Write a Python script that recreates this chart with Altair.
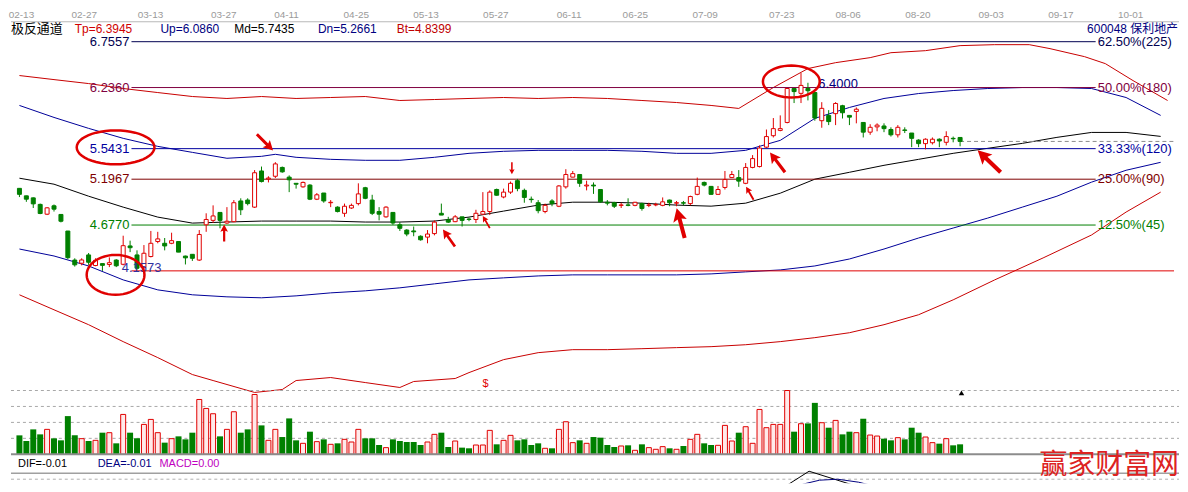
import math
import numpy as np
import pandas as pd
import altair as alt

# ---------------- data ----------------
opens = [5.093, 5.008, 4.985, 4.911, 4.800, 4.895, 4.797, 4.609, 4.280, 4.244,
         4.338, 4.218, 4.240, 4.230, 4.280, 4.232, 4.440, 4.338, 4.195, 4.320,
         4.490, 4.470, 4.470, 4.490, 4.325, 4.345, 4.280, 4.680, 4.730, 4.820,
         4.700, 4.715, 4.950, 4.960, 4.880, 5.290, 5.200, 5.230, 5.330, 5.220,
         5.150, 5.110, 5.130, 4.970, 5.040, 4.930, 4.880, 4.810, 4.870, 4.920,
         5.100, 4.960, 4.830, 4.770, 4.820, 4.680, 4.620, 4.610, 4.550, 4.540,
         4.580, 4.810, 4.735, 4.715, 4.770, 4.745, 4.740, 4.800, 4.830, 5.080,
         4.995, 5.050, 5.180, 5.070, 4.970, 4.930, 4.830, 4.950, 4.890, 5.110,
         5.220, 5.250, 5.120, 5.130, 5.080, 4.935, 4.930, 4.900, 4.905, 4.900,
         4.920, 4.900, 4.905, 4.900, 4.960, 4.925, 4.930, 4.920, 5.025, 5.160,
         5.115, 5.025, 5.103, 5.215, 5.215, 5.150, 5.330, 5.340, 5.560, 5.690,
         5.750, 5.840, 6.225, 6.170, 6.225, 6.180, 5.860, 5.920, 5.940, 6.030,
         5.920, 5.965, 5.840, 5.730, 5.790, 5.800, 5.760, 5.700, 5.755, 5.720,
         5.640, 5.600, 5.610, 5.650, 5.615, 5.660, 5.670]
highs = [5.093, 5.010, 4.990, 4.920, 4.880, 4.910, 4.800, 4.610, 4.300, 4.300,
         4.360, 4.300, 4.240, 4.310, 4.290, 4.556, 4.500, 4.390, 4.450, 4.610,
         4.600, 4.530, 4.590, 4.490, 4.330, 4.345, 4.620, 4.810, 4.900, 4.820,
         4.880, 4.960, 4.980, 4.980, 5.300, 5.340, 5.230, 5.390, 5.340, 5.240,
         5.150, 5.170, 5.140, 5.040, 5.040, 4.960, 4.890, 4.920, 4.920, 5.150,
         5.110, 5.020, 4.880, 4.890, 4.820, 4.710, 4.630, 4.660, 4.560, 4.620,
         4.730, 4.920, 4.770, 4.790, 4.770, 4.760, 4.850, 5.050, 5.070, 5.090,
         5.090, 5.170, 5.200, 5.090, 5.000, 4.960, 4.920, 4.970, 5.130, 5.310,
         5.290, 5.250, 5.180, 5.160, 5.080, 4.960, 4.940, 4.930, 4.980, 4.940,
         4.930, 4.930, 4.930, 4.990, 4.965, 4.950, 4.950, 5.010, 5.215, 5.170,
         5.120, 5.120, 5.290, 5.290, 5.300, 5.380, 5.470, 5.580, 5.760, 5.890,
         5.920, 6.230, 6.230, 6.400, 6.290, 6.180, 6.070, 5.980, 6.070, 6.040,
         5.920, 6.010, 5.845, 5.820, 5.830, 5.830, 5.785, 5.810, 5.785, 5.720,
         5.650, 5.660, 5.670, 5.660, 5.740, 5.680, 5.670]
lows = [4.994, 4.940, 4.870, 4.800, 4.790, 4.830, 4.707, 4.290, 4.206, 4.220,
        4.225, 4.210, 4.157, 4.200, 4.200, 4.220, 4.370, 4.170, 4.180, 4.310,
        4.470, 4.390, 4.460, 4.370, 4.230, 4.270, 4.270, 4.600, 4.700, 4.640,
        4.690, 4.710, 4.790, 4.900, 4.870, 5.160, 5.160, 5.210, 5.270, 5.050,
        5.090, 5.100, 4.960, 4.960, 4.930, 4.880, 4.820, 4.770, 4.860, 4.900,
        4.970, 4.790, 4.730, 4.760, 4.680, 4.610, 4.550, 4.550, 4.500, 4.470,
        4.560, 4.790, 4.700, 4.710, 4.660, 4.720, 4.700, 4.790, 4.790, 5.010,
        4.980, 5.030, 5.060, 4.930, 4.930, 4.810, 4.810, 4.890, 4.880, 5.090,
        5.220, 5.110, 5.070, 5.030, 4.930, 4.900, 4.870, 4.870, 4.890, 4.890,
        4.840, 4.880, 4.890, 4.890, 4.890, 4.890, 4.900, 4.900, 5.015, 5.115,
        5.020, 5.020, 5.080, 5.210, 5.110, 5.140, 5.320, 5.330, 5.550, 5.670,
        5.740, 5.830, 6.060, 6.060, 6.090, 5.860, 5.780, 5.810, 5.810, 5.885,
        5.810, 5.830, 5.670, 5.700, 5.740, 5.730, 5.680, 5.670, 5.720, 5.560,
        5.560, 5.535, 5.590, 5.560, 5.580, 5.615, 5.570]
closes = [5.025, 4.970, 4.917, 4.808, 4.872, 4.857, 4.720, 4.307, 4.226, 4.281,
          4.255, 4.277, 4.220, 4.250, 4.215, 4.443, 4.420, 4.187, 4.357, 4.470,
          4.520, 4.440, 4.500, 4.370, 4.305, 4.300, 4.570, 4.740, 4.780, 4.730,
          4.720, 4.930, 4.850, 4.920, 5.270, 5.170, 5.210, 5.370, 5.280, 5.190,
          5.140, 5.160, 4.970, 5.020, 4.950, 4.935, 4.830, 4.890, 4.900, 5.030,
          4.980, 4.810, 4.800, 4.880, 4.700, 4.640, 4.575, 4.600, 4.510, 4.575,
          4.710, 4.790, 4.710, 4.770, 4.730, 4.740, 4.810, 4.830, 5.050, 5.015,
          5.050, 5.150, 5.090, 4.990, 4.965, 4.840, 4.900, 4.920, 5.120, 5.250,
          5.260, 5.150, 5.130, 5.120, 4.940, 4.925, 4.890, 4.905, 4.900, 4.935,
          4.865, 4.905, 4.910, 4.940, 4.930, 4.930, 4.925, 5.000, 5.115, 5.130,
          5.025, 5.080, 5.193, 5.250, 5.175, 5.330, 5.430, 5.550, 5.680, 5.770,
          5.770, 6.225, 6.190, 6.260, 6.200, 5.890, 6.000, 5.850, 6.055, 5.950,
          5.900, 5.990, 5.730, 5.785, 5.810, 5.770, 5.700, 5.785, 5.750, 5.660,
          5.600, 5.650, 5.650, 5.630, 5.680, 5.655, 5.625]
volumes = [4.75, 3.33, 6.25, 5.0, 6.25, 4.0, 3.5, 9.58, 4.75, 3.92,
           3.33, 3.5, 5.42, 5.42, 2.75, 10.0, 5.42, 4.0, 7.5, 8.75,
           5.42, 2.92, 3.92, 4.5, 3.75, 5.42, 13.75, 11.5, 10.17, 4.5,
           6.25, 10.67, 5.42, 6.25, 15.0, 7.25, 3.5, 6.25, 4.33, 9.0,
           3.5, 2.75, 5.67, 3.17, 3.75, 2.5, 2.75, 3.75, 3.08, 6.25,
           4.0, 4.0, 2.33, 1.67, 3.75, 3.33, 3.08, 3.08, 2.33, 3.08,
           5.0, 5.42, 1.83, 3.33, 1.67, 1.5, 2.33, 2.33, 6.0, 2.5,
           3.5, 4.75, 3.5, 3.75, 2.33, 2.75, 1.5, 1.5, 6.25, 8.17,
           2.92, 3.5, 2.75, 4.33, 4.17, 2.33, 1.83, 2.08, 2.25, 1.0,
           2.5, 1.67, 1.25, 1.92, 1.5, 1.25, 2.08, 3.75, 5.0, 2.75,
           2.33, 2.25, 7.25, 3.33, 5.42, 6.92, 2.75, 11.25, 6.67, 7.5,
           7.5, 16.0, 5.67, 7.67, 7.75, 12.9, 7.92, 6.67, 8.5, 5.0,
           5.67, 5.42, 8.92, 4.83, 4.58, 3.92, 3.5, 4.17, 3.75, 6.67,
           5.42, 4.33, 2.92, 2.67, 3.92, 2.25, 2.5]

date_labels = ["02-13", "02-27", "03-13", "03-27", "04-11", "04-25", "05-13", "05-27",
               "06-11", "06-25", "07-09", "07-23", "08-06", "08-20", "09-03", "09-17", "10-01"]
date_index = [1, 10, 19.5, 30, 39, 49, 59, 69, 79.5, 89, 99, 110, 119.5, 129.5, 140, 150, 160]

# channel lines (bar index, price)
tp_i = [0, 5, 10, 15, 20, 25, 30, 35, 40, 45, 50, 55, 60, 65, 70, 75, 80, 85, 90, 95,
        100, 104, 109, 114, 118, 123, 126, 131, 136, 141, 146, 149, 154, 157, 161, 166]
tp_v = [6.372, 6.326, 6.281, 6.225, 6.179, 6.134, 6.112, 6.134, 6.112, 6.123, 6.134, 6.089,
        6.100, 6.112, 6.123, 6.112, 6.123, 6.112, 6.089, 6.066, 6.033, 5.999, 6.236, 6.451,
        6.518, 6.575, 6.631, 6.654, 6.711, 6.722, 6.722, 6.677, 6.586, 6.507, 6.315, 6.089]
up_i = [0, 5, 10, 15, 20, 25, 30, 35, 37, 40, 45, 50, 55, 60, 65, 70, 75, 80, 85, 90,
        95, 100, 105, 110, 115, 120, 125, 130, 135, 140, 145, 150, 155, 160, 165]
up_v = [6.033, 5.897, 5.773, 5.660, 5.569, 5.501, 5.434, 5.456, 5.479, 5.445, 5.422, 5.411,
        5.411, 5.445, 5.490, 5.513, 5.524, 5.524, 5.524, 5.513, 5.490, 5.490, 5.524, 5.637,
        5.886, 6.010, 6.112, 6.168, 6.202, 6.225, 6.236, 6.236, 6.225, 6.123, 5.920]
md_i = list(range(0, 166, 5))
md_v = [5.208, 5.140, 5.004, 4.880, 4.767, 4.699, 4.711, 4.722, 4.722, 4.722, 4.711, 4.711,
        4.722, 4.767, 4.835, 4.903, 4.936, 4.936, 4.925, 4.903, 4.891, 4.925, 5.038, 5.197,
        5.275, 5.354, 5.422, 5.490, 5.547, 5.603, 5.671, 5.727, 5.727, 5.682]
dn_i = list(range(0, 166, 5))
dn_v = [4.405, 4.326, 4.213, 4.055, 3.942, 3.886, 3.863, 3.852, 3.874, 3.908, 3.931, 3.965,
        4.010, 4.055, 4.078, 4.100, 4.112, 4.112, 4.112, 4.112, 4.123, 4.146, 4.168, 4.213,
        4.292, 4.405, 4.530, 4.643, 4.756, 4.880, 5.004, 5.163, 5.298, 5.388]
bt_i = [0, 5, 10, 15, 20, 25, 28, 34, 38, 40, 45, 50, 55, 57, 63, 65, 70, 75, 80, 85,
        90, 95, 100, 105, 110, 115, 120, 125, 130, 135, 141, 148, 155, 160, 165]
bt_v = [3.886, 3.716, 3.547, 3.355, 3.174, 2.982, 2.914, 2.779, 2.812, 2.914, 2.948, 2.891,
        2.835, 2.903, 2.937, 3.004, 3.151, 3.230, 3.264, 3.264, 3.275, 3.287, 3.298, 3.320,
        3.355, 3.400, 3.456, 3.547, 3.660, 3.829, 4.055, 4.304, 4.564, 4.824, 5.050]

# horizontal levels
level_prices = [6.7557, 6.2360, 5.5431, 5.1967, 4.6770, 4.1573]
level_right = ["62.50%(225)", "50.00%(180)", "33.33%(120)", "25.00%(90)", "12.50%(45)", ""]
level_names = ["L1", "L2", "L3", "L4", "L5", "L6"]
last_close = 5.625

# MACD fragments
dif_i = [105, 109.4, 113.9, 119.8, 122.9, 127]
dif_v = [-0.25, -0.13, 0.07, -0.06, -0.13, -0.25]
dea_i = [110, 113, 115.4, 118, 121, 126.2, 130]
dea_v = [-0.25, -0.06, -0.02, -0.01, -0.04, -0.13, -0.25]

# annotations (bar index, price)
circle_i = [13.9, 111.6, 13.9]
circle_p = [5.558, 6.304, 4.112]
arrow_i = [35.5, 29.6, 62.1, 67.5, 71.2, 95.6, 105.6, 109.6, 140.2]
arrow_p = [5.614, 4.586, 4.530, 4.711, 5.321, 4.699, 5.038, 5.388, 5.400]
arrow_angle = [135, 0, 325, 330, 180, 345, 330, 323, 314]
arrow_len = [23, 17, 21, 14, 12, 31, 15, 25, 32]

# ---------------- styling ----------------
FONT = "Liberation Sans, Noto Sans CJK SC"
CJK = "Noto Sans CJK SC"
RED = "#e00000"
GREEN = "#008000"
W = 1172
X0, X1 = -0.5, 166.93
LINE_START, LINE_END, RLABEL_X, LLABEL_X = 16.2, 155.6, 155.9, 16.05

xs = alt.Scale(domain=[X0, X1], nice=False, zero=False)
ps = alt.Scale(domain=[2.8009, 6.8122], nice=False, zero=False)
vs = alt.Scale(domain=[0, 16], nice=False, zero=False)
ms = alt.Scale(domain=[-0.05, 0.24], nice=False, zero=False)


def X(f):
    return alt.X(f, scale=xs, axis=None)


def PY(f):
    return alt.Y(f, scale=ps, axis=None)


ONE = pd.DataFrame({"k": [0]})


def label(txt, x, y, color, size, align="left", font=FONT):
    return alt.Chart(ONE).mark_text(text=txt, align=align, baseline="middle", fontSize=size,
                                    color=color, font=font).encode(x=alt.value(x), y=alt.value(y))


n = len(opens)
cd = pd.DataFrame({"i": list(range(n)), "o": opens, "h": highs, "l": lows, "c": closes, "v": volumes})
cd["dir"] = np.where(cd["c"] >= cd["o"], "up", "down")
cd["blo"] = cd[["o", "c"]].min(axis=1)
cd["bhi"] = cd[["o", "c"]].max(axis=1)
cd_up = cd[cd["dir"] == "up"]
cd_dn = cd[cd["dir"] == "down"]

# ---------------- top strip ----------------
dates = pd.DataFrame({"pos": date_index, "lab": date_labels})
top_layers = [
    alt.Chart(dates).mark_text(fontSize=10, color="#9a9a9a", font=FONT, baseline="middle")
    .encode(x=X("pos:Q"), y=alt.value(6), text="lab:N"),
    alt.Chart(ONE).mark_rule(color="#b8b8b8", strokeWidth=1)
    .encode(x=alt.value(0), x2=alt.value(W), y=alt.value(13)),
    label("极反通道", 0, 20, "#000000", 13, font=CJK),
    label("Tp=6.3945", 64, 20, "#d00000", 12),
    label("Up=6.0860", 150, 20, "#000080", 12),
    label("Md=5.7435", 224, 20, "#000000", 12),
    label("Dn=5.2661", 308, 20, "#000080", 12),
    label("Bt=4.8399", 387, 20, "#c00000", 12),
    label("600048 保利地产", 1171, 20, "#000080", 12, align="right"),
]
top = alt.layer(*top_layers).properties(width=W, height=28)

# ---------------- price panel ----------------
chan_names = ["Tp", "Up", "Md", "Dn", "Bt"]
chan_colors = ["#c80000", "#000099", "#000000", "#000099", "#c80000"]
chan_data = [(tp_i, tp_v), (up_i, up_v), (md_i, md_v), (dn_i, dn_v), (bt_i, bt_v)]
chan_layers = []
for nm, col, (ii, vv) in zip(chan_names, chan_colors, chan_data):
    chan_layers.append(alt.Chart(pd.DataFrame({"i": ii, "v": vv, "k": nm})).mark_line(
        strokeWidth=1, color=col).encode(x=X("i:Q"), y=PY("v:Q")))

level_colors = ["#000050", "#800040", "#0000a0", "#800000", "#008000", "#e00000"]
level_layers = []
for k, (p, rt, col) in enumerate(zip(level_prices, level_right, level_colors)):
    x1 = X1 if rt == "" else LINE_END
    d = pd.DataFrame({"p": [p], "x0": [LINE_START], "x1": [x1], "lx": [LLABEL_X], "rx": [RLABEL_X],
                      "lt": [f"{p:.4f}"], "rt": [rt]})
    level_layers.append(alt.Chart(d).mark_rule(strokeWidth=1, color=col).encode(
        x=X("x0:Q"), x2="x1:Q", y=PY("p:Q")))
    if rt:
        level_layers.append(alt.Chart(d).mark_text(align="right", baseline="middle", fontSize=13,
                                                   font=FONT, dx=-1, color=col).encode(
            x=X("lx:Q"), y=PY("p:Q"), text="lt:N"))
        level_layers.append(alt.Chart(d).mark_text(align="left", baseline="middle", fontSize=13,
                                                   font=FONT, color=col).encode(
            x=X("rx:Q"), y=PY("p:Q"), text="rt:N"))

cur = pd.DataFrame({"x0": [n - 1], "x1": [X1], "p": [last_close]})
cur_line = alt.Chart(cur).mark_rule(color="#8c8c8c", strokeDash=[4, 3], strokeWidth=1).encode(
    x=X("x0:Q"), x2="x1:Q", y=PY("p:Q"))

wick_up = alt.Chart(cd_up).mark_rule(strokeWidth=1, color=RED).encode(x=X("i:Q"), y=PY("l:Q"), y2="h:Q")
wick_dn = alt.Chart(cd_dn).mark_rule(strokeWidth=1, color=GREEN).encode(x=X("i:Q"), y=PY("l:Q"), y2="h:Q")
body_up = alt.Chart(cd_up).mark_bar(size=4, fill="white", stroke=RED, strokeWidth=1).encode(
    x=X("i:Q"), y=PY("blo:Q"), y2="bhi:Q")
body_dn = alt.Chart(cd_dn).mark_bar(size=4, fill=GREEN, stroke=GREEN, strokeWidth=1).encode(
    x=X("i:Q"), y=PY("blo:Q"), y2="bhi:Q")

hi_lab = pd.DataFrame({"i": [115.5], "p": [6.28], "t": ["6.4000"]})
lo_lab = pd.DataFrame({"i": [14.8], "p": [4.191], "t": ["4.1573"]})
dol = pd.DataFrame({"i": [67.4], "p": [2.88], "t": ["$"]})
hi_text = alt.Chart(hi_lab).mark_text(align="left", baseline="middle", fontSize=13, font=FONT, color="#000080").encode(
    x=X("i:Q"), y=PY("p:Q"), text="t:N")
lo_text = alt.Chart(lo_lab).mark_text(align="left", baseline="middle", fontSize=13, font=FONT, color="#3030a0").encode(
    x=X("i:Q"), y=PY("p:Q"), text="t:N")
dol_text = alt.Chart(dol).mark_text(align="center", baseline="middle", fontSize=11, font=FONT, color=RED).encode(
    x=X("i:Q"), y=PY("p:Q"), text="t:N")


def ellipse_path(ry, k=48):
    pts = [(math.cos(2 * math.pi * j / k), ry * math.sin(2 * math.pi * j / k)) for j in range(k)]
    return "M" + " L".join(f"{a:.4f},{b:.4f}" for a, b in pts) + " Z"


circle_w = [78, 57, 58]
circle_h = [34, 32, 40]
circles = []
for ci, cp, cw, ch in zip(circle_i, circle_p, circle_w, circle_h):
    circles.append(alt.Chart(pd.DataFrame({"i": [ci], "p": [cp]})).mark_point(
        shape=ellipse_path(ch / cw), size=cw * cw, filled=False, stroke=RED, strokeWidth=2.5, opacity=1
    ).encode(x=X("i:Q"), y=PY("p:Q")))

ARROW = "M0,-1 L0.45,-0.15 L0.13,-0.27 L0.13,1 L-0.13,1 L-0.13,-0.27 L-0.45,-0.15 Z"
arr = pd.DataFrame({"i": arrow_i, "p": arrow_p, "ang": arrow_angle, "sz": [L * L for L in arrow_len]})
arrows = alt.Chart(arr).mark_point(shape=ARROW, filled=True, fill=RED, color=RED, strokeWidth=0, opacity=1).encode(
    x=X("i:Q"), y=PY("p:Q"), angle=alt.Angle("ang:Q", scale=None), size=alt.Size("sz:Q", scale=None))

price = alt.layer(*chan_layers, *level_layers, cur_line, wick_up, wick_dn, body_up, body_dn,
                  hi_text, lo_text, dol_text, *circles, arrows).properties(width=W, height=355)

# ---------------- volume panel ----------------
grid = pd.DataFrame({"g": [4, 8, 12, 16]})
vgrid = alt.Chart(grid).mark_rule(color="#a8a8a8", strokeDash=[3, 3], strokeWidth=1).encode(
    x=alt.value(0), x2=alt.value(W), y=alt.Y("g:Q", scale=vs, axis=None))
vol_up = alt.Chart(cd_up).mark_bar(size=5, fill="#ffeaea", stroke=RED, strokeWidth=1).encode(
    x=X("i:Q"), y=alt.Y("v:Q", scale=vs, axis=None))
vol_dn = alt.Chart(cd_dn).mark_bar(size=6, color=GREEN).encode(
    x=X("i:Q"), y=alt.Y("v:Q", scale=vs, axis=None))
base = alt.Chart(pd.DataFrame({"g": [0]})).mark_rule(color="#8c8c8c", strokeWidth=2).encode(
    x=alt.value(0), x2=alt.value(W), y=alt.Y("g:Q", scale=vs, axis=None))
tri = alt.Chart(pd.DataFrame({"i": [136.2], "v": [15.4]})).mark_point(
    shape="triangle-up", filled=True, color="black", size=30, opacity=1).encode(
    x=X("i:Q"), y=alt.Y("v:Q", scale=vs, axis=None))
vol = alt.layer(vgrid, vol_up, vol_dn, base, tri).properties(width=W, height=64)

# ---------------- MACD panel ----------------
dif_line = alt.Chart(pd.DataFrame({"i": dif_i, "v": dif_v})).mark_line(
    strokeWidth=1, clip=True, color="#000000").encode(x=X("i:Q"), y=alt.Y("v:Q", scale=ms, axis=None))
dea_line = alt.Chart(pd.DataFrame({"i": dea_i, "v": dea_v})).mark_line(
    strokeWidth=1, clip=True, color="#000080").encode(x=X("i:Q"), y=alt.Y("v:Q", scale=ms, axis=None))
macd_layers = [
    alt.Chart(ONE).mark_rule(color="#a0a0a0", strokeWidth=1.5).encode(
        x=alt.value(0), x2=alt.value(W), y=alt.value(19)),
    alt.Chart(ONE).mark_rule(color="#b0b0b0", strokeDash=[3, 3], strokeWidth=1).encode(
        x=alt.value(0), x2=alt.value(W), y=alt.value(25)),
    dif_line, dea_line,
    label("DIF=-0.01", 7, 10, "#000000", 11),
    label("DEA=-0.01", 87, 10, "#000080", 11),
    label("MACD=0.00", 149, 10, "#c000c0", 11),
    label("赢家财富网", 1172, 12, "#dd2222", 28, align="right", font=CJK),
]
macd = alt.layer(*macd_layers).properties(width=W, height=29)

chart = alt.vconcat(top, price, vol, macd, spacing=0, bounds="flush", padding=0).configure_view(stroke=None)

chart.save("out.html", embed_options={"renderer": "svg", "actions": False})
